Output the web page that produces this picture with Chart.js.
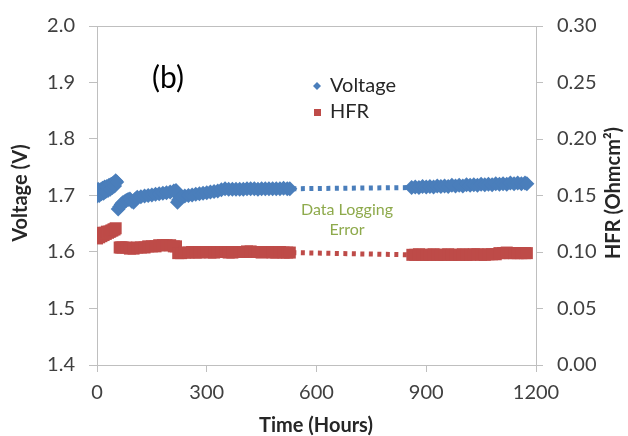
<!DOCTYPE html>
<html lang="en">
<head>
  <meta charset="UTF-8" />
  <title>Voltage and HFR over time</title>
  <script src="https://cdn.jsdelivr.net/npm/chart.js"></script>
  <style>
    body { margin: 0; background: #fff; }
  </style>
</head>
<body>
  <canvas id="chart" width="628" height="436"></canvas>

  <script>
    // values (hours / volts / Ohm cm2)
    const voltHours = [
      0, 3, 6, 9, 12, 15, 18, 21, 24, 27, 30, 33, 36, 39, 42, 45, 48, 51, 54,
      58, 62, 66, 70, 75, 80, 85, 90, 95, 100, 105, 110, 120, 130, 140, 150, 160, 170, 180, 190, 200, 210, 216,
      220, 223, 227, 232, 240, 250, 260, 270, 280, 290, 300, 310, 320, 330, 340, 350, 360, 370, 380, 390, 400,
      410, 420, 430, 440, 450, 460, 470, 480, 490, 500, 510, 520, 527,
      860, 870, 880, 890, 900, 910, 920, 930, 940, 950, 960, 970, 980, 990, 1000, 1010, 1020,
      1030, 1040, 1050, 1060, 1070, 1080, 1090, 1100, 1110, 1120, 1130, 1140, 1150, 1160, 1170, 1175
    ];
    const voltValues = [
      1.699, 1.711, 1.700, 1.710, 1.703, 1.713, 1.704, 1.715, 1.707, 1.716, 1.709, 1.718, 1.711, 1.720, 1.714, 1.722, 1.717, 1.726, 1.724,
      1.676, 1.680, 1.684, 1.687, 1.689, 1.691, 1.693, 1.694, 1.690, 1.688, 1.694, 1.697, 1.698, 1.699, 1.700, 1.701, 1.702, 1.703, 1.704, 1.705, 1.706, 1.708, 1.709,
      1.688, 1.692, 1.695, 1.697, 1.699, 1.700, 1.701, 1.702, 1.703, 1.704, 1.705, 1.706, 1.707, 1.708, 1.710, 1.712, 1.711, 1.711, 1.711, 1.711, 1.711,
      1.712, 1.712, 1.712, 1.711, 1.712, 1.712, 1.712, 1.712, 1.712, 1.712, 1.713, 1.712, 1.712,
      1.714, 1.715, 1.714, 1.716, 1.715, 1.716, 1.715, 1.717, 1.716, 1.717, 1.716, 1.718, 1.717, 1.718, 1.717, 1.719, 1.718,
      1.719, 1.718, 1.720, 1.719, 1.720, 1.719, 1.721, 1.720, 1.721, 1.720, 1.722, 1.721, 1.722, 1.721, 1.722, 1.721
    ];

    const hfrHours = [
      0, 3, 6, 9, 12, 15, 18, 21, 24, 27, 30, 33, 36, 39, 42, 45, 48, 51,
      62, 66, 70, 80, 90, 100, 110, 120, 130, 140, 150, 160, 170, 180, 190, 200, 210, 216,
      222, 230, 240, 250, 260, 270, 280, 290, 300, 310, 320, 330, 340, 350, 360, 370, 380, 390, 400,
      410, 420, 430, 440, 450, 460, 470, 480, 490, 500, 510, 520, 527,
      862, 870, 880, 890, 900, 910, 920, 930, 940, 950, 960, 970, 980, 990, 1000, 1010, 1020,
      1030, 1040, 1050, 1060, 1070, 1080, 1090, 1100, 1110, 1120, 1130, 1140, 1150, 1160, 1170, 1175
    ];
    const hfrValues = [
      0.112, 0.116, 0.113, 0.116, 0.114, 0.117, 0.115, 0.117, 0.116, 0.118, 0.117, 0.118, 0.118, 0.119, 0.119, 0.120, 0.120, 0.121,
      0.104, 0.104, 0.104, 0.104, 0.103, 0.103, 0.104, 0.104, 0.104, 0.105, 0.105, 0.105, 0.106, 0.106, 0.106, 0.106, 0.105, 0.105,
      0.099, 0.099, 0.0995, 0.0995, 0.100, 0.0995, 0.0995, 0.100, 0.100, 0.0995, 0.0995, 0.100, 0.100, 0.100, 0.0995, 0.0995, 0.100, 0.100, 0.100,
      0.1005, 0.1005, 0.100, 0.100, 0.0995, 0.100, 0.100, 0.0995, 0.0995, 0.100, 0.0995, 0.0995, 0.0995,
      0.0975, 0.0975, 0.098, 0.0975, 0.0975, 0.0975, 0.098, 0.0975, 0.0975, 0.0975, 0.098, 0.0975, 0.0975, 0.0975, 0.098, 0.0975, 0.0975,
      0.098, 0.098, 0.0975, 0.0975, 0.098, 0.098, 0.098, 0.099, 0.099, 0.0995, 0.099, 0.099, 0.099, 0.099, 0.099, 0.099
    ];

    // dotted stretch where logging failed
    const gapHours = [534, 854];
    const gapVolt = [1.712, 1.714];
    const gapHfr = [0.0995, 0.0975];

    const xTicks = [0, 300, 600, 900, 1200];

    const blue = '#4A7EBB';
    const red = '#BE4B48';
    const axisGray = '#BFBFBF';
    const tickText = '#404040';
    const fontName = 'Lato, "Open Sans", sans-serif';

    function toPoints(xs, ys) {
      return xs.map((x, i) => ({ x: x, y: ys[i] }));
    }

    const extraText = {
      id: 'extraText',
      afterDraw(chart) {
        const ctx = chart.ctx;
        const area = chart.chartArea;
        ctx.save();

        // top border of the plot
        ctx.strokeStyle = axisGray;
        ctx.lineWidth = 1;
        ctx.beginPath();
        ctx.moveTo(area.left, area.top + 0.5);
        ctx.lineTo(area.right, area.top + 0.5);
        ctx.stroke();

        ctx.textBaseline = 'middle';
        ctx.textAlign = 'center';
        ctx.fillStyle = '#262626';
        ctx.font = 'bold 20px ' + fontName;
        ctx.fillText('Time (Hours)', 316, 426);

        ctx.save();
        ctx.translate(21, 193);
        ctx.rotate(-Math.PI / 2);
        ctx.fillText('Voltage (V)', 0, 0);
        ctx.restore();

        ctx.save();
        ctx.translate(614, 193);
        ctx.rotate(-Math.PI / 2);
        ctx.fillText('HFR (Ohmcm\u00B2)', 0, 0);
        ctx.restore();

        // panel letter
        ctx.fillStyle = '#000';
        ctx.font = '30px ' + fontName;
        ctx.fillText('(b)', 168, 78);

        // legend
        ctx.textAlign = 'left';
        ctx.font = '20px ' + fontName;
        ctx.fillStyle = '#262626';
        ctx.fillText('Voltage', 330, 86);
        ctx.fillText('HFR', 330, 112);
        ctx.fillStyle = blue;
        ctx.beginPath();
        ctx.moveTo(317, 82);
        ctx.lineTo(321, 86);
        ctx.lineTo(317, 90);
        ctx.lineTo(313, 86);
        ctx.closePath();
        ctx.fill();
        ctx.fillStyle = red;
        ctx.fillRect(314, 109, 7, 7);

        // note on the gap
        ctx.textAlign = 'center';
        ctx.fillStyle = '#8EAA4C';
        ctx.font = '16px ' + fontName;
        ctx.fillText('Data Logging', 347, 210);
        ctx.fillText('Error', 347, 230);

        ctx.restore();
      }
    };

    const ctx = document.getElementById('chart').getContext('2d');
    new Chart(ctx, {
      type: 'scatter',
      data: {
        datasets: [
          {
            label: 'Voltage',
            data: toPoints(voltHours, voltValues),
            yAxisID: 'y',
            pointStyle: 'rectRot',
            pointRadius: 7.5,
            backgroundColor: blue,
            borderWidth: 0,
            showLine: false
          },
          {
            label: 'HFR',
            data: toPoints(hfrHours, hfrValues),
            yAxisID: 'y2',
            pointStyle: 'rect',
            pointRadius: 8.5,
            backgroundColor: red,
            borderWidth: 0,
            showLine: false
          },
          {
            label: 'gapV',
            data: toPoints(gapHours, gapVolt),
            yAxisID: 'y',
            showLine: true,
            pointRadius: 0,
            borderColor: blue,
            borderWidth: 5,
            borderDash: [4, 4.5],
            borderCapStyle: 'butt'
          },
          {
            label: 'gapH',
            data: toPoints(gapHours, gapHfr),
            yAxisID: 'y2',
            showLine: true,
            pointRadius: 0,
            borderColor: red,
            borderWidth: 5,
            borderDash: [4, 4.5],
            borderCapStyle: 'butt'
          }
        ]
      },
      options: {
        responsive: false,
        animation: false,
        layout: { padding: { top: 22, left: 0, right: 0, bottom: 0 } },
        plugins: {
          legend: { display: false },
          tooltip: { enabled: false }
        },
        scales: {
          x: {
            type: 'linear',
            min: 0,
            max: 1200,
            afterBuildTicks: (scale) => { scale.ticks = xTicks.map(v => ({ value: v })); },
            afterFit: (scale) => { scale.height = 71; },
            grid: { drawOnChartArea: false, color: axisGray, tickLength: 7 },
            border: { color: axisGray },
            ticks: {
              color: tickText,
              font: { family: fontName, size: 20 },
              padding: 9,
              maxRotation: 0,
              callback: (v) => String(v)
            }
          },
          y: {
            position: 'left',
            min: 1.4,
            max: 2.0,
            afterFit: (scale) => { scale.width = 97; },
            grid: { drawOnChartArea: false, color: axisGray, tickLength: 8 },
            border: { color: axisGray },
            ticks: {
              stepSize: 0.1,
              color: tickText,
              font: { family: fontName, size: 20 },
              padding: 14,
              callback: (v) => v.toFixed(1)
            }
          },
          y2: {
            position: 'right',
            min: 0,
            max: 0.3,
            afterFit: (scale) => { scale.width = 92; },
            grid: { drawOnChartArea: false, color: axisGray, tickLength: 7 },
            border: { color: axisGray },
            ticks: {
              stepSize: 0.05,
              color: tickText,
              font: { family: fontName, size: 20 },
              padding: 14,
              callback: (v) => v.toFixed(2)
            }
          }
        }
      },
      plugins: [extraText]
    });
  </script>
</body>
</html>
